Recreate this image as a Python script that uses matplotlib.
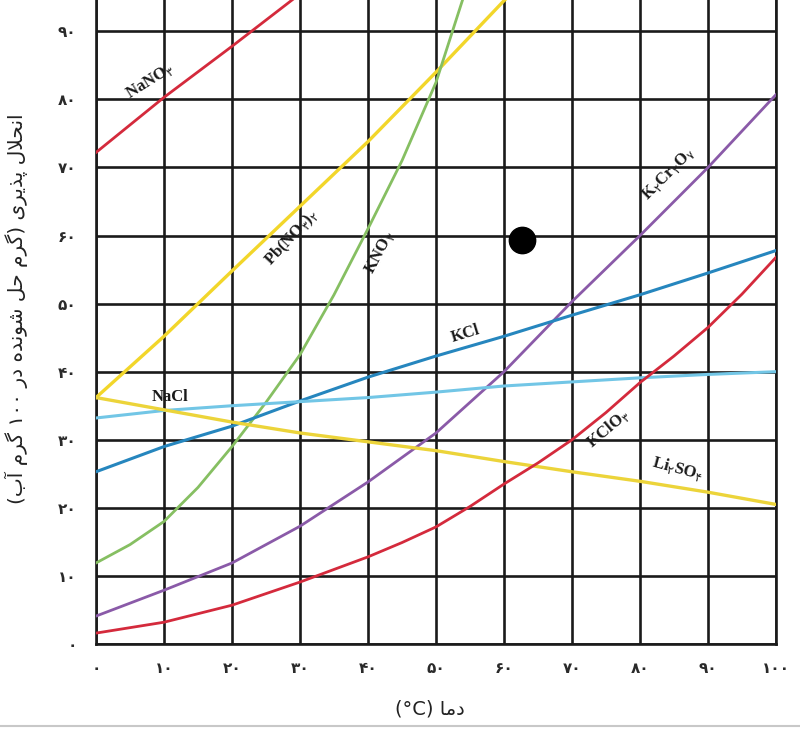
import matplotlib
matplotlib.use("Agg")
import matplotlib.pyplot as plt
import numpy as np

plt.rcParams['mathtext.fontset'] = 'dejavusans'

# solubility (g solute / 100 g water)
t10 = [0, 10, 20, 30, 40, 50, 60, 70, 80, 90, 100]
t_nano3 = [0, 10, 20, 30, 40]
nano3 = [72.2, 80.3, 87.8, 95.5, 103]
t_pb = [0, 10, 20, 30, 40, 50, 60, 70]
pbno3 = [36.2, 45.2, 54.8, 64.3, 73.8, 84.0, 94.5, 104]
t_kno3 = [0, 5, 10, 15, 20, 25, 30, 35, 40, 45, 50, 55]
kno3 = [11.9, 14.6, 18.0, 23.0, 29.0, 35.5, 42.5, 51.3, 61.0, 71.0, 82.5, 98.0]
k2cr2o7 = [4.1, 7.9, 11.9, 17.3, 23.8, 31.0, 40.0, 50.3, 60.0, 70.0, 80.7]
kcl = [25.3, 29.0, 32.0, 35.7, 39.2, 42.3, 45.2, 48.3, 51.3, 54.5, 57.8]
nacl = [33.2, 34.3, 35.0, 35.6, 36.2, 37.0, 37.9, 38.5, 39.1, 39.6, 40.0]
li2so4 = [36.2, 34.4, 32.6, 31.0, 29.7, 28.4, 26.8, 25.3, 23.9, 22.3, 20.5]
t_kclo3 = [0, 10, 20, 30, 40, 45, 50, 55, 60, 65, 70, 75, 80, 85, 90, 95, 100]
kclo3 = [1.6, 3.2, 5.7, 9.1, 12.8, 14.9, 17.2, 20.2, 23.5, 26.6, 30.0, 34.0,
         38.4, 42.3, 46.5, 51.4, 56.8]

xticks = [0, 10, 20, 30, 40, 50, 60, 70, 80, 90, 100]
yticks = [0, 10, 20, 30, 40, 50, 60, 70, 80, 90]
dot = (62.6, 59.4)

FA = '۰۱۲۳۴۵۶۷۸۹'


def fa_num(n):
    return ''.join(FA[int(c)] for c in str(n))


# isolated, final, initial, medial presentation forms
FORMS = {
    'ا': ('\uFE8D', '\uFE8E', None, None),
    'آ': ('\uFE81', '\uFE82', None, None),
    'ب': ('\uFE8F', '\uFE90', '\uFE91', '\uFE92'),
    'پ': ('\uFB56', '\uFB57', '\uFB58', '\uFB59'),
    'ح': ('\uFEA1', '\uFEA2', '\uFEA3', '\uFEA4'),
    'د': ('\uFEA9', '\uFEAA', None, None),
    'ذ': ('\uFEAB', '\uFEAC', None, None),
    'ر': ('\uFEAD', '\uFEAE', None, None),
    'ش': ('\uFEB5', '\uFEB6', '\uFEB7', '\uFEB8'),
    'گ': ('\uFB92', '\uFB93', '\uFB94', '\uFB95'),
    'ل': ('\uFEDD', '\uFEDE', '\uFEDF', '\uFEE0'),
    'م': ('\uFEE1', '\uFEE2', '\uFEE3', '\uFEE4'),
    'ن': ('\uFEE5', '\uFEE6', '\uFEE7', '\uFEE8'),
    'ه': ('\uFEE9', '\uFEEA', '\uFEEB', '\uFEEC'),
    'و': ('\uFEED', '\uFEEE', None, None),
    'ی': ('\uFBFC', '\uFBFD', '\uFBFE', '\uFBFF'),
}


def joins_next(c):
    return c in FORMS and FORMS[c][2] is not None


def rtl(text):
    # shape letters, then lay out right-to-left
    out = []
    i = 0
    n = len(text)
    while i < n:
        c = text[i]
        prev = text[i - 1] if i > 0 else ''
        p = joins_next(prev)
        if c == 'ل' and i + 1 < n and text[i + 1] == 'ا':
            out.append('\uFEFC' if p else '\uFEFB')
            i += 2
            continue
        if c not in FORMS:
            out.append(c)
            i += 1
            continue
        nxt = text[i + 1] if i + 1 < n else ''
        q = joins_next(c) and nxt in FORMS
        f = FORMS[c]
        out.append(f[3] if p and q else f[1] if p else f[2] if q else f[0])
        i += 1
    runs = []
    for ch in out:
        dig = ch in FA or ch in 'C°'
        if runs and runs[-1][0] == dig:
            runs[-1][1].append(ch)
        else:
            runs.append([dig, [ch]])
    mirror = {'(': ')', ')': '('}
    res = ''
    for dig, chs in reversed(runs):
        if dig:
            res += ''.join(chs)
        else:
            res += ''.join(mirror.get(ch, ch) for ch in reversed(chs))
    return res


fig = plt.figure(figsize=(8, 7.33), dpi=100)
ax = fig.add_axes([96 / 800, 89 / 733, 680 / 800, 644 / 733])

grid_c = '#1a1a1a'
for x in xticks:
    ax.axvline(x, color=grid_c, lw=1.9, zorder=1)
for y in yticks:
    ax.axhline(y, color=grid_c, lw=1.9, zorder=1)

lw = 2.0
ax.plot(t_nano3, nano3, color='#d42a3c', lw=lw, zorder=3)
ax.plot(t_pb, pbno3, color='#f2d62a', lw=2.4, zorder=3)
ax.plot(t_kno3, kno3, color='#86bf62', lw=lw, zorder=3)
ax.plot(t10, k2cr2o7, color='#8a5aa8', lw=lw, zorder=3)
ax.plot(t10, kcl, color='#2686be', lw=2.2, zorder=3)
ax.plot(t10, nacl, color='#72c6e6', lw=2.2, zorder=3)
ax.plot(t10, li2so4, color='#ecd43a', lw=2.4, zorder=3)
ax.plot(t_kclo3, kclo3, color='#d42a3c', lw=lw, zorder=3)

ax.scatter([dot[0]], [dot[1]], s=360, color='black', zorder=5)

lab = dict(family=['Liberation Serif', 'DejaVu Sans'], weight='bold',
           fontsize=12, color='#1a1a1a', ha='center', va='center', zorder=4)
ax.text(7.9, 82.6, 'NaNO$_{۳}$', rotation=32, **lab)
ax.text(28.8, 59.7, 'Pb(NO$_{۳}$)$_{۲}$', rotation=47, **lab)
ax.text(41.8, 57.5, 'KNO$_{۳}$', rotation=62, **lab)
ax.text(84.1, 69.0, 'K$_{۲}$Cr$_{۲}$O$_{۷}$', rotation=45, **lab)
ax.text(54.4, 45.6, 'KCl', rotation=17, **lab)
ax.text(10.9, 36.3, 'NaCl', rotation=0, **lab)
ax.text(75.3, 31.6, 'KClO$_{۳}$', rotation=40, **lab)
ax.text(85.6, 25.8, 'Li$_{۲}$SO$_{۴}$', rotation=-15, **lab)

ax.set_xlim(0, 100)
ax.set_ylim(0, 94.6)
ax.set_xticks(xticks)
ax.set_xticklabels([fa_num(v) for v in xticks], fontweight='bold')
ax.set_yticks(yticks)
ax.set_yticklabels([fa_num(v) for v in yticks], fontweight='bold')
ax.tick_params(length=0, labelsize=11, labelcolor='#2a2a2a')
ax.tick_params(axis='x', pad=12)
ax.tick_params(axis='y', pad=14)
ax.spines['top'].set_visible(False)
for s in ['left', 'right', 'bottom']:
    ax.spines[s].set_color(grid_c)
    ax.spines[s].set_linewidth(1.9)

ax.set_ylabel(rtl('انحلال پذیری (گرم حل شونده در ۱۰۰ گرم آب)'),
              fontsize=14.5, color='#222222', family='DejaVu Sans')
ax.yaxis.set_label_coords(-0.1, 0.52)
ax.set_xlabel(rtl('دما (°C)'), fontsize=14, color='#222222',
              family='DejaVu Sans')
ax.xaxis.set_label_coords(0.491, -0.086)

fig.add_artist(plt.Line2D([0, 1], [7 / 733, 7 / 733], color='#c8c8c8', lw=1.5))

fig.savefig('out.png', dpi=100)
